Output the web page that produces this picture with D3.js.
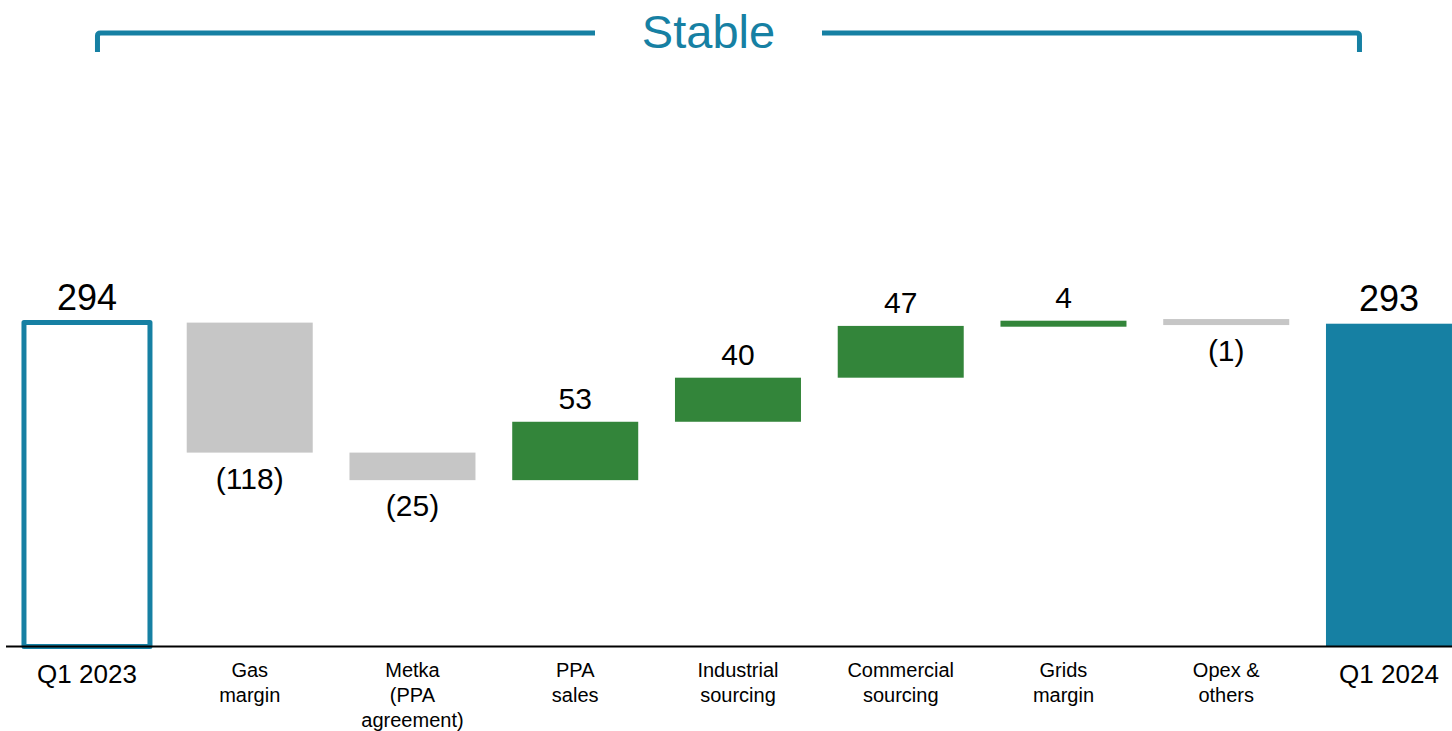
<!DOCTYPE html>
<html>
<head>
<meta charset="utf-8">
<script src="https://cdn.jsdelivr.net/npm/d3@7"></script>
<style>
  html, body { margin: 0; padding: 0; background: #fff; }
  svg { display: block; font-family: "Liberation Sans", Arial, sans-serif; }
</style>
</head>
<body>
<svg id="chart" width="1452" height="731"></svg>
<script>
// Bridge from Q1 2023 to Q1 2024
const categories = ["Q1 2023", "Gas margin", "Metka (PPA agreement)", "PPA sales",
  "Industrial sourcing", "Commercial sourcing", "Grids margin", "Opex & others", "Q1 2024"];
const categoryLines = [["Q1 2023"], ["Gas", "margin"], ["Metka", "(PPA", "agreement)"],
  ["PPA", "sales"], ["Industrial", "sourcing"], ["Commercial", "sourcing"],
  ["Grids", "margin"], ["Opex &", "others"], ["Q1 2024"]];
const kinds = ["start", "delta", "delta", "delta", "delta", "delta", "delta", "delta", "end"];
const values = [294, -118, -25, 53, 40, 47, 4, -1, 293];
const title = "Stable";

const TEAL = "#1680a3", GREEN = "#33853a", GREY = "#c6c6c6";

const svg = d3.select("#chart");

const x = d3.scaleBand()
  .domain(categories)
  .range([5.6, 1470.35])
  .paddingInner(0.2258)
  .paddingOuter(0.1129);

const y = d3.scaleLinear().domain([0, 300]).range([646.5, 316]);

// running totals for the floating bars
let running = 0;
const bars = categories.map((c, i) => {
  const v = values[i];
  let lo, hi;
  if (kinds[i] === "delta") {
    const a = running, b = running + v;
    lo = Math.min(a, b); hi = Math.max(a, b);
    running = b;
  } else {
    lo = 0; hi = v; running = v;
  }
  return { cat: c, kind: kinds[i], value: v, lo, hi };
});

const minH = 6;
function geom(d) {
  let top = y(d.hi), bot = y(d.lo);
  if (bot - top < minH) {
    const mid = (top + bot) / 2;
    top = mid - minH / 2; bot = mid + minH / 2;
  }
  return { top, bot };
}

// bars
bars.forEach(d => {
  const g = geom(d);
  const x0 = x(d.cat), w = x.bandwidth();
  if (d.kind === "start") {
    svg.append("rect")
      .attr("x", x0).attr("y", g.top)
      .attr("width", w).attr("height", g.bot - g.top)
      .attr("fill", "none").attr("stroke", TEAL)
      .attr("stroke-width", 5).attr("stroke-linejoin", "round");
  } else {
    const fill = d.kind === "end" ? TEAL : (d.value >= 0 ? GREEN : GREY);
    svg.append("rect")
      .attr("x", x0).attr("y", g.top)
      .attr("width", w).attr("height", g.bot - g.top)
      .attr("fill", fill);
  }
});

// value labels
bars.forEach(d => {
  const g = geom(d);
  const cx = x(d.cat) + x.bandwidth() / 2;
  if (d.kind !== "delta") {
    svg.append("text").attr("x", cx).attr("y", g.top - 13)
      .attr("text-anchor", "middle").attr("font-size", 36).attr("fill", "#000")
      .text(d.value);
  } else if (d.value >= 0) {
    svg.append("text").attr("x", cx).attr("y", g.top - 13)
      .attr("text-anchor", "middle").attr("font-size", 30).attr("fill", "#000")
      .text(d.value);
  } else {
    svg.append("text").attr("x", cx).attr("y", g.bot + 36)
      .attr("text-anchor", "middle").attr("font-size", 30).attr("fill", "#000")
      .text("(" + Math.abs(d.value) + ")");
  }
});

// baseline
svg.append("line")
  .attr("x1", 6).attr("x2", 1452)
  .attr("y1", 646.5).attr("y2", 646.5)
  .attr("stroke", "#000").attr("stroke-width", 2);

// category labels
categories.forEach((c, i) => {
  const cx = x(c) + x.bandwidth() / 2;
  const big = kinds[i] !== "delta";
  const t = svg.append("text")
    .attr("text-anchor", "middle")
    .attr("font-size", big ? 26 : 20)
    .attr("fill", "#000");
  categoryLines[i].forEach((ln, j) => {
    t.append("tspan").attr("x", cx)
      .attr("y", (big ? 683 : 677) + j * 25)
      .text(ln);
  });
});

// bracket with title, spanning from the first bar to the last
const bx0 = x(categories[0]) + x.bandwidth() / 2 + 10.5;
const bx1 = x(categories[categories.length - 1]) + 33.5;
const by = 33, bdrop = 52, r = 3;
const gapL = 595, gapR = 822;
const bracket = svg.append("g")
  .attr("fill", "none").attr("stroke", TEAL).attr("stroke-width", 5);
bracket.append("path")
  .attr("d", `M${bx0},${bdrop} L${bx0},${by + r} Q${bx0},${by} ${bx0 + r},${by} L${gapL},${by}`);
bracket.append("path")
  .attr("d", `M${gapR},${by} L${bx1 - r},${by} Q${bx1},${by} ${bx1},${by + r} L${bx1},${bdrop}`);
svg.append("text")
  .attr("x", (gapL + gapR) / 2).attr("y", 48)
  .attr("text-anchor", "middle").attr("font-size", 47).attr("fill", TEAL)
  .text(title);
</script>
</body>
</html>
